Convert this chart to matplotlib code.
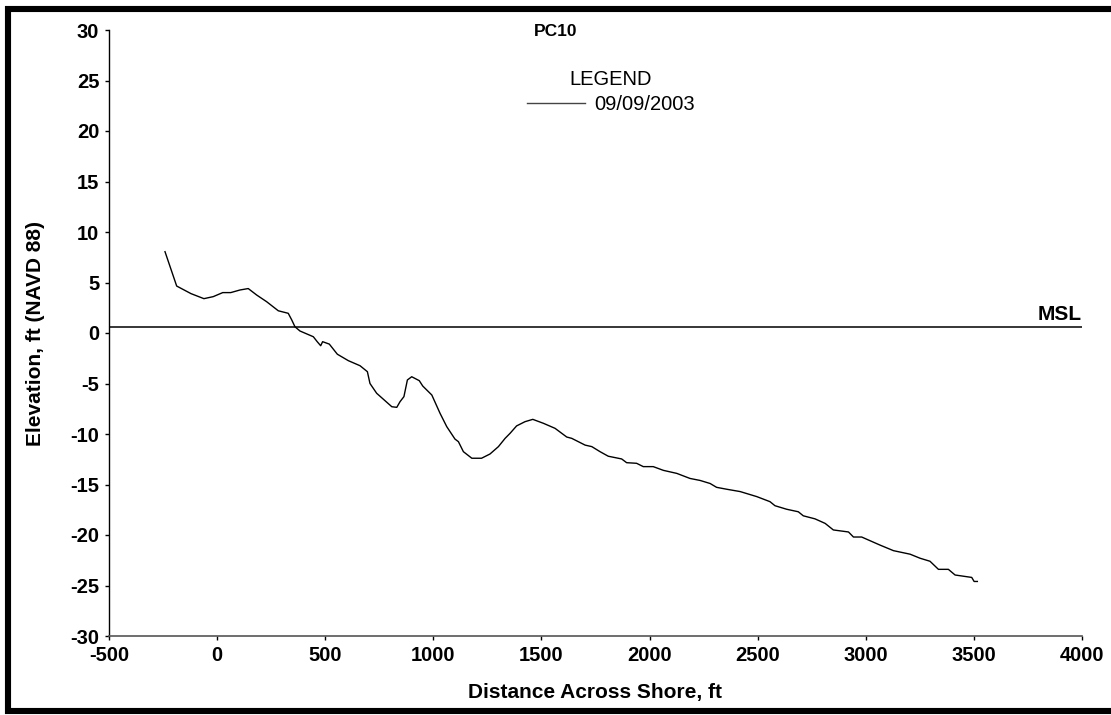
import matplotlib.pyplot as plt
from matplotlib.lines import Line2D

plt.rcParams['font.family'] = ['Liberation Sans', 'DejaVu Sans']
plt.rcParams['axes.unicode_minus'] = False

# profile PC10, surveyed 09/09/2003
dist = [-241, -187, -121, -61, -18, 26, 63, 106, 144, 183, 229, 283, 329, 345,
        360, 383, 445, 463, 479, 488, 519, 556, 607, 661, 695, 707, 738, 808,
        831, 846, 864, 880, 900, 935, 951, 993, 1031, 1062, 1100, 1116, 1139,
        1178, 1223, 1262, 1301, 1332, 1355, 1385, 1424, 1460, 1509, 1563, 1617,
        1640, 1702, 1733, 1771, 1809, 1871, 1894, 1940, 1971, 2017, 2064, 2126,
        2187, 2234, 2280, 2310, 2357, 2419, 2496, 2557, 2580, 2634, 2688, 2711,
        2765, 2812, 2850, 2920, 2943, 2981, 3066, 3128, 3205, 3251, 3297, 3336,
        3382, 3413, 3490, 3501, 3516]
elev = [8.05, 4.65, 3.9, 3.4, 3.6, 4.0, 4.0, 4.26, 4.4, 3.76, 3.1, 2.2, 1.95, 1.3,
        0.62, 0.2, -0.37, -0.86, -1.26, -0.86, -1.1, -2.1, -2.74, -3.24, -3.83,
        -5.0, -5.97, -7.3, -7.36, -6.8, -6.3, -4.65, -4.33, -4.72, -5.25, -6.14,
        -7.95, -9.27, -10.5, -10.76, -11.75, -12.4, -12.4, -11.98, -11.25,
        -10.43, -9.93, -9.2, -8.78, -8.55, -8.94, -9.44, -10.3, -10.43, -11.1,
        -11.25, -11.75, -12.2, -12.47, -12.84, -12.9, -13.23, -13.23, -13.6,
        -13.9, -14.4, -14.6, -14.9, -15.28, -15.47, -15.7, -16.2, -16.7, -17.1,
        -17.45, -17.7, -18.1, -18.4, -18.85, -19.5, -19.7, -20.2, -20.2, -21.0,
        -21.55, -21.9, -22.3, -22.6, -23.4, -23.4, -23.96, -24.2, -24.6, -24.6]
msl = 0.55
survey_label = "09/09/2003"

W, H = 1111, 715
fig = plt.figure(figsize=(W / 100, H / 100), dpi=100)
ax = fig.add_axes([109 / W, 1 - 636 / H, (1082 - 109) / W, (636 - 30) / H])

ax.plot(dist, elev, color='black', lw=1, label=survey_label)
ax.axhline(msl, color='black', lw=1.1)
ax.text(1.0, msl + 0.3, 'MSL', transform=ax.get_yaxis_transform(),
        ha='right', va='bottom', fontsize=15, fontweight='bold')

ax.set_xlim(-500, 4000)
ax.set_ylim(-30, 30)
ax.set_xticks(range(-500, 4001, 500))
ax.set_yticks(range(-30, 31, 5))
for s in ['top', 'right']:
    ax.spines[s].set_visible(False)
ax.spines['left'].set_linewidth(1)
ax.spines['bottom'].set_linewidth(1.2)
ax.spines['bottom'].set_color('#555555')
ax.tick_params(direction='out', length=3, width=1, labelsize=14.5, pad=4)
for lbl in ax.get_xticklabels() + ax.get_yticklabels():
    lbl.set_fontweight('bold')

ax.set_xlabel('Distance Across Shore, ft', fontsize=15, fontweight='bold', labelpad=13)
ax.set_ylabel('Elevation, ft (NAVD 88)', fontsize=15, fontweight='bold', labelpad=18)

fig.text(0.5, 1 - 31 / H, 'PC10', ha='center', va='center',
         fontsize=12.5, fontweight='bold')

leg = ax.legend(title='LEGEND', frameon=False, fontsize=14.5, title_fontsize=14.5,
                loc='upper center', bbox_to_anchor=(611 / W, 1 - 60 / H),
                bbox_transform=fig.transFigure, handlelength=2.9,
                handletextpad=0.45, borderpad=0, labelspacing=0.3)
leg.get_lines()[0].set_color('#444444')

# thick frame: left, top and bottom (right side runs off the picture)
fx = [1140 / W, 8 / W, 8 / W, 1140 / W]
fy = [1 - 9 / H, 1 - 9 / H, 1 - 711 / H, 1 - 711 / H]
fig.lines.append(Line2D(fx, fy, transform=fig.transFigure, color='black',
                        lw=4.4, solid_joinstyle='miter'))

fig.savefig('out.png', dpi=100)
